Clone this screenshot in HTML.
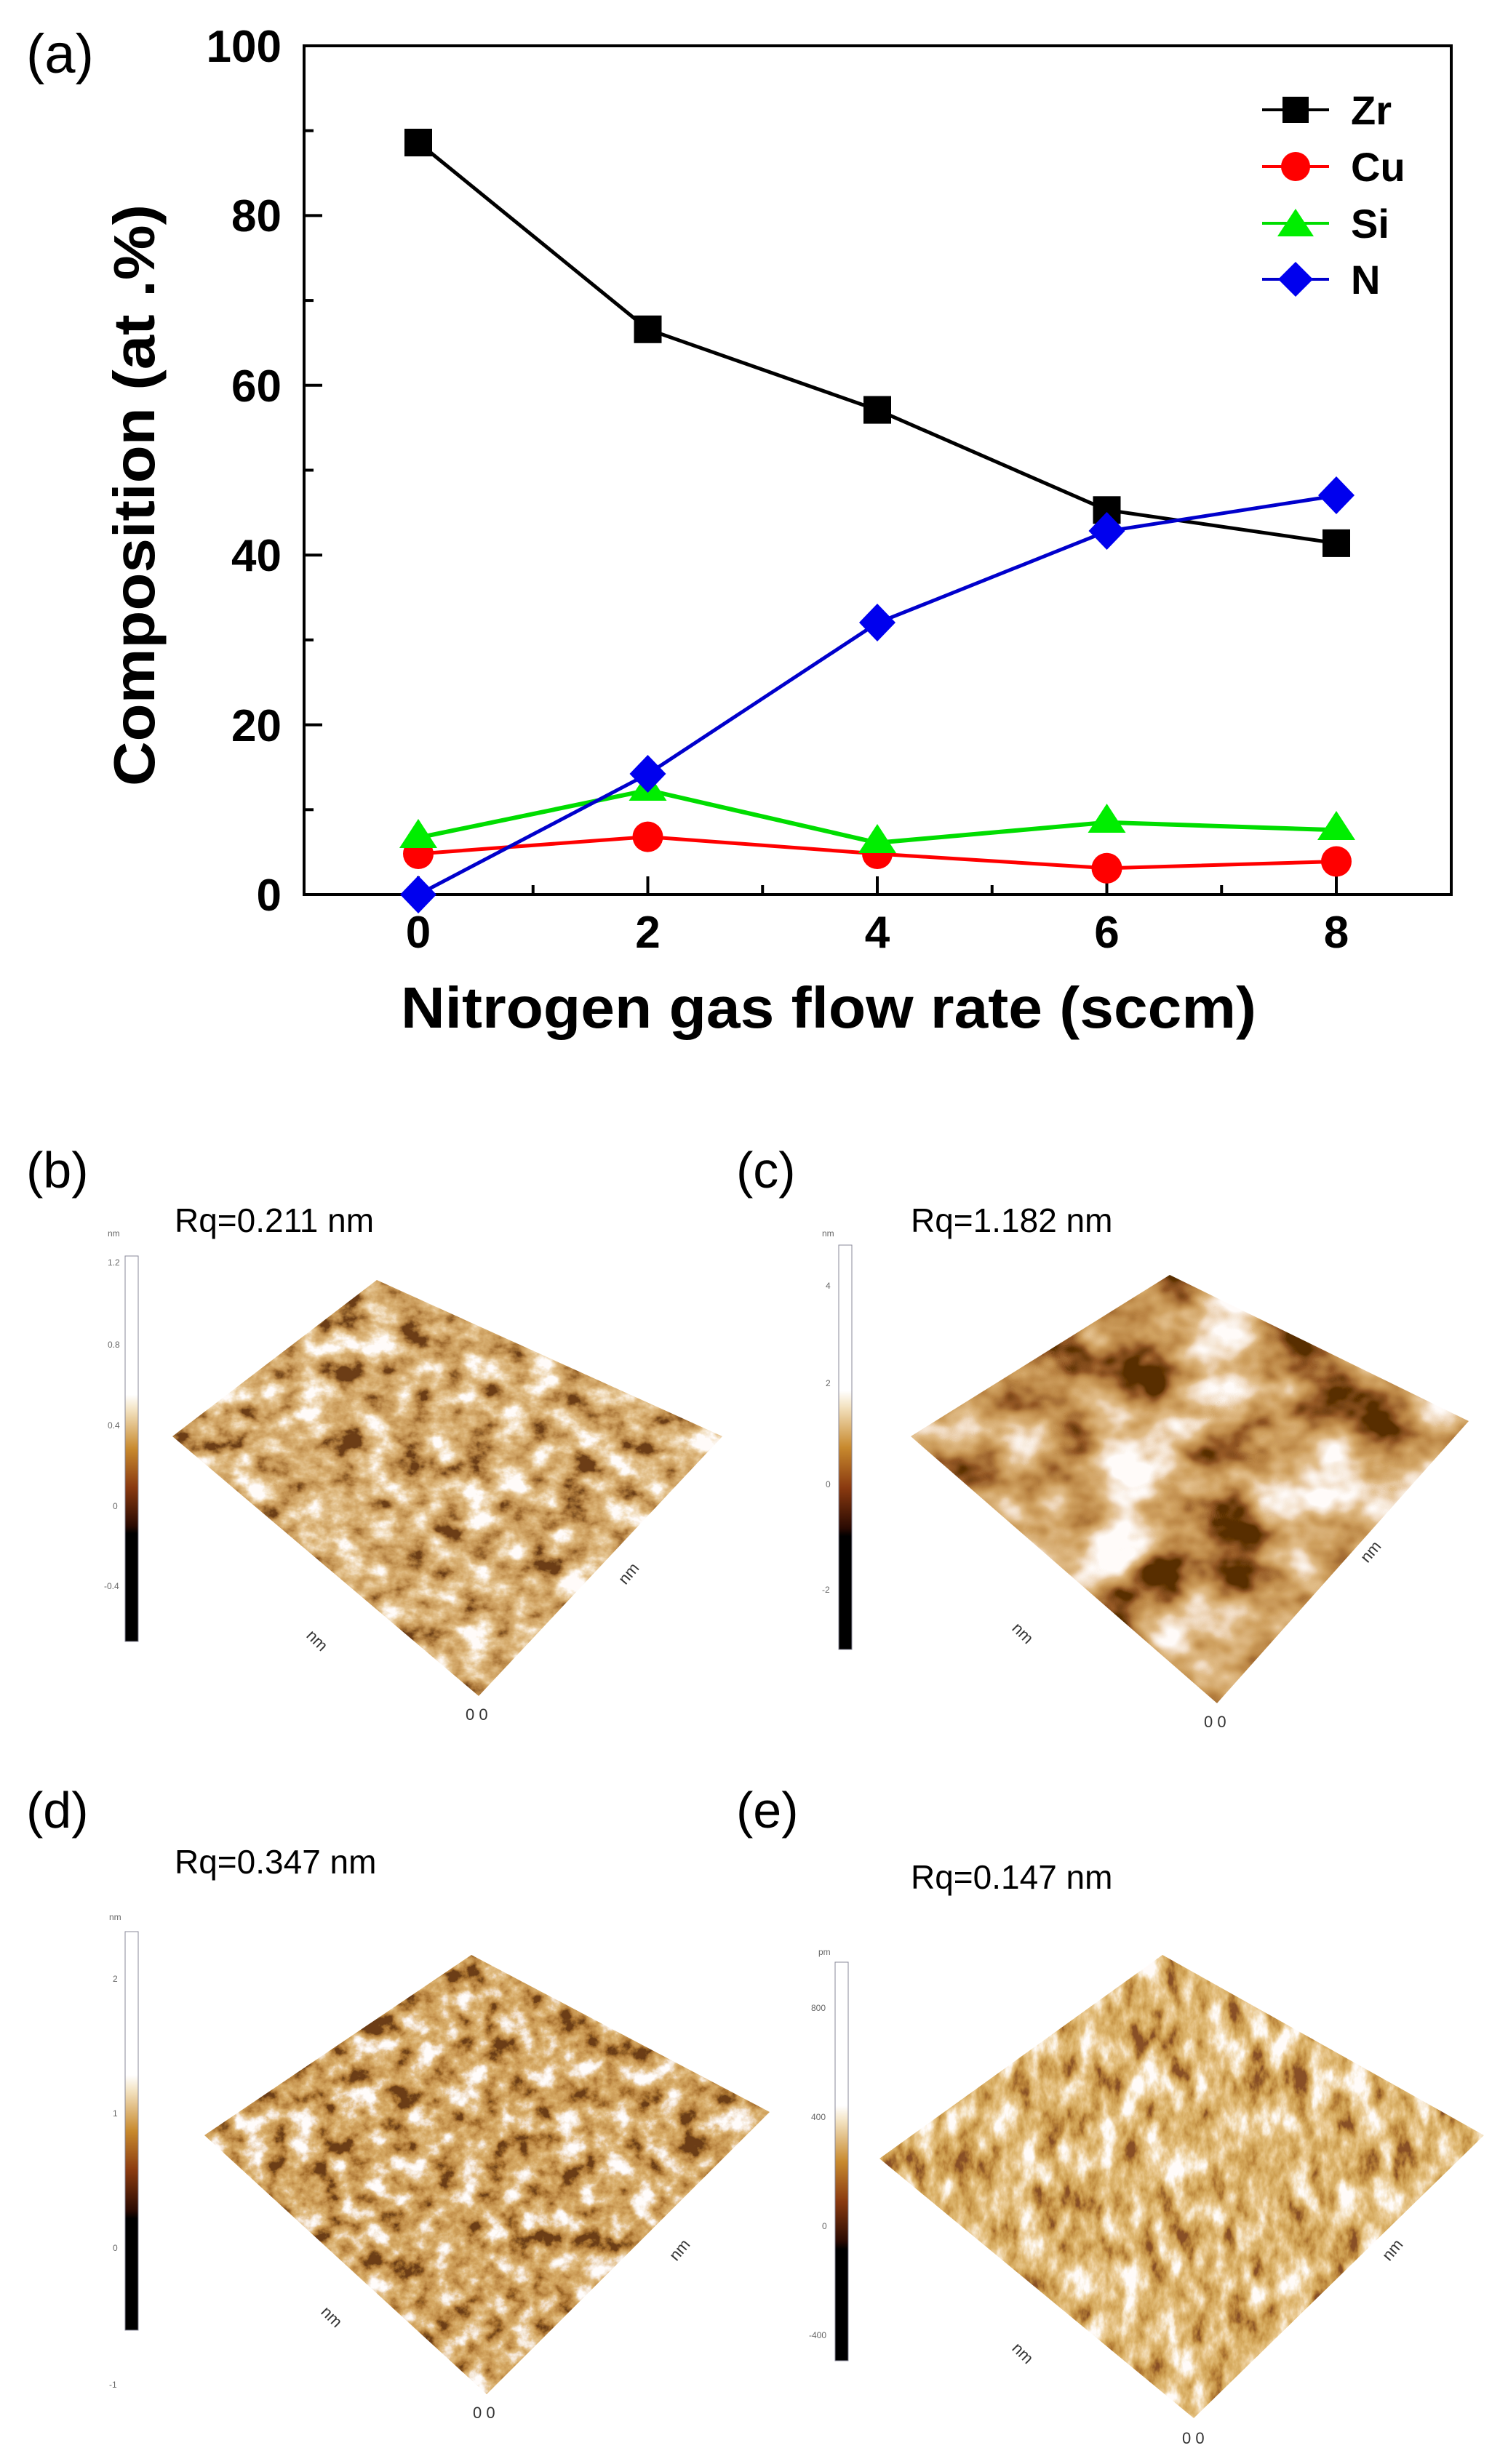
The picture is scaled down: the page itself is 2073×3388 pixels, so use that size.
<!DOCTYPE html>
<html><head><meta charset="utf-8"><style>
html,body{margin:0;padding:0;background:#fff}
svg{display:block}
</style></head><body>
<svg width="2073" height="3388" viewBox="0 0 2073 3388" xmlns="http://www.w3.org/2000/svg" font-family="'Liberation Sans', sans-serif">
<defs>
<filter id="afm1" x="0" y="0" width="100%" height="100%">
<feTurbulence type="fractalNoise" baseFrequency="0.022 0.03" numOctaves="5" seed="3" result="t"/>
<feColorMatrix in="t" type="matrix" values="1 0 0 0 0 1 0 0 0 0 1 0 0 0 0 0 0 0 0 1" result="g"/>
<feComponentTransfer in="g" result="s">
<feFuncR type="linear" slope="2" intercept="-0.5"/><feFuncG type="linear" slope="2" intercept="-0.5"/><feFuncB type="linear" slope="2" intercept="-0.5"/>
</feComponentTransfer>
<feComponentTransfer in="s" result="c">
<feFuncR type="table" tableValues="0.15 0.4 0.58 0.68 0.78 0.9 1"/>
<feFuncG type="table" tableValues="0.05 0.18 0.32 0.42 0.55 0.75 0.97"/>
<feFuncB type="table" tableValues="0.01 0.04 0.1 0.16 0.28 0.55 0.95"/>
</feComponentTransfer>
<feComposite in="c" in2="SourceGraphic" operator="in"/>
</filter>
<filter id="afm2" x="0" y="0" width="100%" height="100%">
<feTurbulence type="fractalNoise" baseFrequency="0.008 0.01" numOctaves="4" seed="7" result="t"/>
<feColorMatrix in="t" type="matrix" values="1 0 0 0 0 1 0 0 0 0 1 0 0 0 0 0 0 0 0 1" result="g"/>
<feComponentTransfer in="g" result="s">
<feFuncR type="linear" slope="2.4" intercept="-0.75"/><feFuncG type="linear" slope="2.4" intercept="-0.75"/><feFuncB type="linear" slope="2.4" intercept="-0.75"/>
</feComponentTransfer>
<feComponentTransfer in="s" result="c">
<feFuncR type="table" tableValues="0.1 0.3 0.5 0.63 0.75 0.9 1"/>
<feFuncG type="table" tableValues="0.03 0.1 0.24 0.36 0.5 0.75 0.97"/>
<feFuncB type="table" tableValues="0 0.02 0.06 0.12 0.24 0.6 0.95"/>
</feComponentTransfer>
<feComposite in="c" in2="SourceGraphic" operator="in"/>
</filter>
<filter id="afm3" x="0" y="0" width="100%" height="100%">
<feTurbulence type="fractalNoise" baseFrequency="0.03" numOctaves="5" seed="11" result="t"/>
<feColorMatrix in="t" type="matrix" values="1 0 0 0 0 1 0 0 0 0 1 0 0 0 0 0 0 0 0 1" result="g"/>
<feComponentTransfer in="g" result="s">
<feFuncR type="linear" slope="2" intercept="-0.52"/><feFuncG type="linear" slope="2" intercept="-0.52"/><feFuncB type="linear" slope="2" intercept="-0.52"/>
</feComponentTransfer>
<feComponentTransfer in="s" result="c">
<feFuncR type="table" tableValues="0.15 0.4 0.57 0.67 0.77 0.9 1"/>
<feFuncG type="table" tableValues="0.05 0.17 0.3 0.4 0.53 0.78 0.98"/>
<feFuncB type="table" tableValues="0.01 0.03 0.08 0.13 0.25 0.65 0.97"/>
</feComponentTransfer>
<feComposite in="c" in2="SourceGraphic" operator="in"/>
</filter>
<filter id="afm4" x="0" y="0" width="100%" height="100%">
<feTurbulence type="fractalNoise" baseFrequency="0.035 0.018" numOctaves="5" seed="5" result="t"/>
<feColorMatrix in="t" type="matrix" values="1 0 0 0 0 1 0 0 0 0 1 0 0 0 0 0 0 0 0 1" result="g"/>
<feComponentTransfer in="g" result="s">
<feFuncR type="linear" slope="2" intercept="-0.48"/><feFuncG type="linear" slope="2" intercept="-0.48"/><feFuncB type="linear" slope="2" intercept="-0.48"/>
</feComponentTransfer>
<feComponentTransfer in="s" result="c">
<feFuncR type="table" tableValues="0.25 0.48 0.63 0.73 0.83 0.93 1"/>
<feFuncG type="table" tableValues="0.08 0.22 0.36 0.47 0.6 0.8 0.97"/>
<feFuncB type="table" tableValues="0.02 0.04 0.09 0.16 0.3 0.6 0.95"/>
</feComponentTransfer>
<feComposite in="c" in2="SourceGraphic" operator="in"/>
</filter>
<linearGradient id="cb" x1="0" y1="0" x2="0" y2="1">
<stop offset="0" stop-color="#fff"/><stop offset="0.36" stop-color="#fff"/>
<stop offset="0.4" stop-color="#f3e2c0"/><stop offset="0.5" stop-color="#c88a2e"/>
<stop offset="0.6" stop-color="#8a3a10"/><stop offset="0.7" stop-color="#2a0a02"/>
<stop offset="0.72" stop-color="#000"/><stop offset="1" stop-color="#000"/>
</linearGradient>
</defs>

<!-- (a) chart -->
<text x="36" y="100" font-size="76">(a)</text>
<rect x="418" y="63" width="1577" height="1167" fill="none" stroke="#000" stroke-width="4"/>
<g stroke="#000" stroke-width="4">
<line x1="418" y1="1230" x2="443" y2="1230"/><line x1="418" y1="996.6" x2="443" y2="996.6"/>
<line x1="418" y1="763.2" x2="443" y2="763.2"/><line x1="418" y1="529.8" x2="443" y2="529.8"/>
<line x1="418" y1="296.4" x2="443" y2="296.4"/>
<line x1="418" y1="1113.3" x2="431" y2="1113.3"/><line x1="418" y1="879.9" x2="431" y2="879.9"/>
<line x1="418" y1="646.5" x2="431" y2="646.5"/><line x1="418" y1="413.1" x2="431" y2="413.1"/>
<line x1="418" y1="179.7" x2="431" y2="179.7"/>
<line x1="575" y1="1230" x2="575" y2="1205"/><line x1="890.5" y1="1230" x2="890.5" y2="1205"/>
<line x1="1206" y1="1230" x2="1206" y2="1205"/><line x1="1521.5" y1="1230" x2="1521.5" y2="1205"/>
<line x1="1837" y1="1230" x2="1837" y2="1205"/>
<line x1="732.75" y1="1230" x2="732.75" y2="1217"/><line x1="1048.25" y1="1230" x2="1048.25" y2="1217"/>
<line x1="1363.75" y1="1230" x2="1363.75" y2="1217"/><line x1="1679.25" y1="1230" x2="1679.25" y2="1217"/>
</g>
<g font-size="62" font-weight="bold" text-anchor="end">
<text x="387" y="1252">0</text><text x="387" y="1019">20</text><text x="387" y="785">40</text>
<text x="387" y="552">60</text><text x="387" y="318">80</text><text x="387" y="85">100</text>
</g>
<g font-size="62" font-weight="bold" text-anchor="middle">
<text x="575" y="1303">0</text><text x="890.5" y="1303">2</text><text x="1206" y="1303">4</text>
<text x="1521.5" y="1303">6</text><text x="1837" y="1303">8</text>
</g>
<text x="1139" y="1413" font-size="80" font-weight="bold" text-anchor="middle" textLength="1176" lengthAdjust="spacingAndGlyphs">Nitrogen gas flow rate (sccm)</text>
<text transform="translate(212,681) rotate(-90)" font-size="80" font-weight="bold" text-anchor="middle" textLength="800" lengthAdjust="spacingAndGlyphs">Composition (at .%)</text>

<polyline points="575,196 890.5,452.8 1206,563.6 1521.5,701.3 1837,746.9" fill="none" stroke="#000" stroke-width="5"/>
<polyline points="575,1174 890.5,1150.6 1206,1174 1521.5,1193.8 1837,1184.5" fill="none" stroke="#f00" stroke-width="5"/>
<polyline points="575,1151.8 890.5,1086.5 1206,1158.8 1521.5,1130.8 1837,1141.3" fill="none" stroke="#0d0" stroke-width="6"/>
<polyline points="575,1230 890.5,1064.3 1206,856.6 1521.5,730.5 1837,681.5" fill="none" stroke="#00c" stroke-width="5"/>
<g fill="#000">
<rect x="556" y="177" width="38" height="38"/><rect x="871.5" y="433.8" width="38" height="38"/>
<rect x="1187" y="544.6" width="38" height="38"/><rect x="1502.5" y="682.3" width="38" height="38"/>
<rect x="1818" y="727.9" width="38" height="38"/>
</g>
<g fill="#f00">
<circle cx="575" cy="1174" r="21"/><circle cx="890.5" cy="1150.6" r="21"/><circle cx="1206" cy="1174" r="21"/>
<circle cx="1521.5" cy="1193.8" r="21"/><circle cx="1837" cy="1184.5" r="21"/>
</g>
<g fill="#0e0">
<polygon points="575,1126 549,1166 601,1166"/><polygon points="890.5,1061 864.5,1101 916.5,1101"/>
<polygon points="1206,1133 1180,1173 1232,1173"/><polygon points="1521.5,1105 1495.5,1145 1547.5,1145"/>
<polygon points="1837,1115 1811,1155 1863,1155"/>
</g>
<g fill="#00e">
<polygon points="575,1204 600,1230 575,1256 550,1230"/><polygon points="890.5,1038 915.5,1064 890.5,1090 865.5,1064"/>
<polygon points="1206,830 1231,856 1206,882 1181,856"/><polygon points="1521.5,704 1546.5,730 1521.5,756 1496.5,730"/>
<polygon points="1837,655 1862,681 1837,707 1812,681"/>
</g>
<!-- legend -->
<g stroke-width="4">
<line x1="1735" y1="151" x2="1827" y2="151" stroke="#000"/>
<line x1="1735" y1="229" x2="1827" y2="229" stroke="#f00"/>
<line x1="1735" y1="307" x2="1827" y2="307" stroke="#0d0"/>
<line x1="1735" y1="384" x2="1827" y2="384" stroke="#00c"/>
</g>
<rect x="1763" y="133" width="36" height="36" fill="#000"/>
<circle cx="1781" cy="229" r="20" fill="#f00"/>
<polygon points="1781,287 1756,325 1806,325" fill="#0e0"/>
<polygon points="1781,360 1805,384 1781,408 1757,384" fill="#00e"/>
<g font-size="56" font-weight="bold">
<text x="1857" y="171">Zr</text><text x="1857" y="249">Cu</text><text x="1857" y="327">Si</text><text x="1857" y="404">N</text>
</g>

<!-- AFM panels -->
<g font-size="70"><text x="36" y="1633">(b)</text><text x="1012" y="1633">(c)</text>
<text x="36" y="2513">(d)</text><text x="1012" y="2513">(e)</text></g>
<g font-size="46"><text x="240" y="1694">Rq=0.211 nm</text><text x="1252" y="1694">Rq=1.182 nm</text>
<text x="240" y="2576">Rq=0.347 nm</text><text x="1252" y="2597">Rq=0.147 nm</text></g>

<!-- colorbars -->
<rect x="172" y="1727" width="18" height="530" fill="url(#cb)" stroke="#889" stroke-width="1"/>
<rect x="1153" y="1712" width="18" height="556" fill="url(#cb)" stroke="#889" stroke-width="1"/>
<rect x="172" y="2656" width="18" height="548" fill="url(#cb)" stroke="#889" stroke-width="1"/>
<rect x="1148" y="2698" width="18" height="548" fill="url(#cb)" stroke="#889" stroke-width="1"/>
<g font-size="12" fill="#666">
<text x="148" y="1700">nm</text><text x="148" y="1740">1.2</text><text x="148" y="1853">0.8</text><text x="148" y="1964">0.4</text><text x="155" y="2075">0</text><text x="143" y="2185">-0.4</text>
<text x="1130" y="1700">nm</text><text x="1135" y="1772">4</text><text x="1135" y="1906">2</text><text x="1135" y="2045">0</text><text x="1130" y="2190">-2</text>
<text x="150" y="2640">nm</text><text x="155" y="2725">2</text><text x="155" y="2910">1</text><text x="155" y="3095">0</text><text x="150" y="3283">-1</text>
<text x="1125" y="2688">pm</text><text x="1115" y="2765">800</text><text x="1115" y="2915">400</text><text x="1130" y="3065">0</text><text x="1112" y="3215">-400</text>
</g>

<!-- surfaces -->
<polygon points="518,1760 993,1975 658,2332 237,1975" fill="#a06a30" filter="url(#afm1)"/>
<polygon points="1608,1753 2019,1954 1673,2342 1252,1975" fill="#804a20" filter="url(#afm2)"/>
<polygon points="648,2688 1058,2904 669,3292 281,2936" fill="#a06a30" filter="url(#afm3)"/>
<polygon points="1598,2688 2040,2936 1641,3325 1209,2968" fill="#b07a38" filter="url(#afm4)"/>
<g font-size="22" fill="#333">
<text x="640" y="2365">0 0</text><text x="1655" y="2375">0 0</text><text x="650" y="3325">0 0</text><text x="1625" y="3360">0 0</text>
<text transform="translate(420,2250) rotate(45)">nm</text><text transform="translate(860,2180) rotate(-50)">nm</text>
<text transform="translate(1390,2240) rotate(45)">nm</text><text transform="translate(1880,2150) rotate(-50)">nm</text>
<text transform="translate(440,3180) rotate(45)">nm</text><text transform="translate(930,3110) rotate(-50)">nm</text>
<text transform="translate(1390,3230) rotate(45)">nm</text><text transform="translate(1910,3110) rotate(-50)">nm</text>
</g>
</svg>
</body></html>
